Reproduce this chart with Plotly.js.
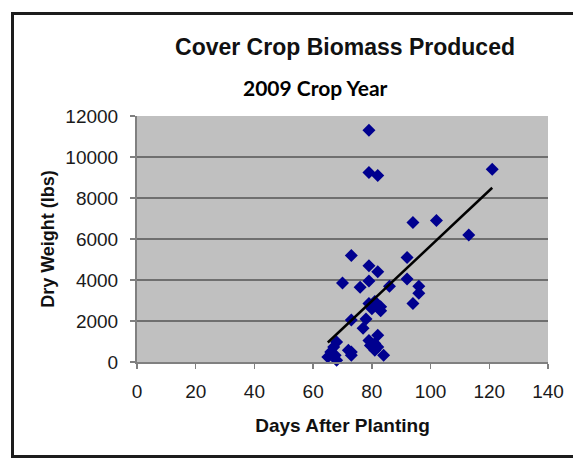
<!DOCTYPE html>
<html>
<head>
<meta charset="utf-8">
<script src="https://cdn.plot.ly/plotly-3.0.1.min.js"></script>
<style>
  html, body { margin: 0; padding: 0; background: #ffffff; overflow: hidden; }
  #frame { position: absolute; left: 11px; top: 12px; width: 640px; height: 446px; border: 3px solid #1c1c1c; box-sizing: border-box; }
  #chart { position: absolute; left: 0; top: 0; width: 573px; height: 461px; }
</style>
</head>
<body>
<div id="frame"></div>
<div id="chart"></div>
<script>
// Days after planting (x) and dry weight in lbs (y)
const daysAfterPlanting = [79, 79, 82, 121, 94, 102, 113, 73, 79, 82, 92, 70, 76, 79, 86, 92, 96, 96, 94,
  79, 81, 83, 80, 83, 73, 78, 77, 82, 79, 79.5, 81, 81, 82, 84, 68, 67, 66, 67.5, 65, 68, 72, 73, 73];
const dryWeightLbs = [11300, 9250, 9100, 9400, 6800, 6900, 6200, 5200, 4700, 4400, 5100, 3850, 3650, 3950, 3700, 4050, 3700, 3350, 2850,
  2850, 2950, 2700, 2600, 2500, 2050, 2100, 1650, 1300, 1050, 800, 900, 570, 730, 330, 980, 730, 490, 330, 240, 80, 570, 490, 330];
// Linear trend line endpoints as drawn in the reference
const trendX = [65, 121];
const trendY = [950, 8500];
const xTicks = [0, 20, 40, 60, 80, 100, 120, 140];
const yTicks = [0, 2000, 4000, 6000, 8000, 10000, 12000];

const traces = [
  {
    x: daysAfterPlanting, y: dryWeightLbs, type: 'scatter', mode: 'markers',
    marker: { symbol: 'diamond', size: 10, color: '#00008f' },
    showlegend: false, cliponaxis: false
  },
  {
    x: trendX, y: trendY, type: 'scatter', mode: 'lines',
    line: { color: '#000000', width: 2.5 }, showlegend: false
  }
];

const layout = {
  width: 573, height: 461,
  margin: { l: 137, r: 25, t: 116, b: 99 },
  paper_bgcolor: 'rgba(0,0,0,0)',
  plot_bgcolor: '#c0c0c0',
  showlegend: false,
  title: {
    text: 'Cover Crop Biomass Produced',
    font: { family: 'Liberation Sans, Arial, sans-serif', size: 23, color: '#111111', weight: 'bold' },
    x: 345 / 573, xanchor: 'center', xref: 'container',
    y: 1 - 47 / 461, yanchor: 'middle', yref: 'container'
  },
  annotations: [{
    text: '<b>2009 Crop Year</b>', xref: 'paper', yref: 'paper',
    x: (315 - 137) / 411, y: (362 - 87) / 246, xanchor: 'center', yanchor: 'middle',
    showarrow: false, font: { family: 'Lato, Open Sans, sans-serif', size: 21, color: '#000000' }
  }],
  xaxis: {
    range: [0, 140], tickvals: xTicks, ticktext: xTicks.map(String),
    showgrid: false, zeroline: false,
    showline: true, linecolor: '#808080', linewidth: 2,
    ticks: 'outside', ticklen: 5, tickwidth: 1.5, tickcolor: '#808080',
    ticklabelstandoff: 6,
    tickfont: { family: 'Liberation Sans, Arial, sans-serif', size: 19, color: '#1a1a1a' },
    title: { text: 'Days After Planting', standoff: 18,
      font: { family: 'Liberation Sans, Arial, sans-serif', size: 19, color: '#111111', weight: 'bold' } },
    fixedrange: true
  },
  yaxis: {
    range: [0, 12000], tickvals: yTicks, ticktext: yTicks.map(String),
    showgrid: true, gridcolor: '#6f6f6f', gridwidth: 2,
    zeroline: false,
    showline: true, linecolor: '#808080', linewidth: 2,
    ticks: 'outside', ticklen: 5, tickwidth: 1.5, tickcolor: '#808080',
    ticklabelstandoff: 8,
    tickfont: { family: 'Liberation Sans, Arial, sans-serif', size: 19, color: '#1a1a1a' },
    title: { text: 'Dry Weight (lbs)', standoff: 6,
      font: { family: 'Liberation Sans, Arial, sans-serif', size: 18, color: '#111111', weight: 'bold' } },
    fixedrange: true
  }
};

Plotly.newPlot('chart', traces, layout, { displayModeBar: false, staticPlot: true });
</script>
</body>
</html>
